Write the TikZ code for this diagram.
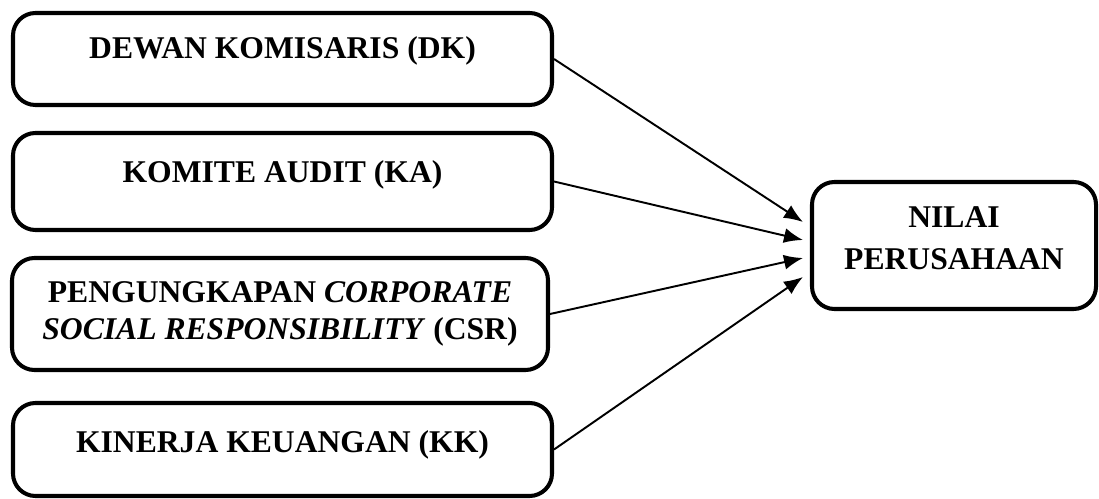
\documentclass[tikz,border=0pt]{standalone}
\usepackage{fontspec}
\setmainfont{Liberation Serif}
\usetikzlibrary{arrows.meta}
\begin{document}
\begin{tikzpicture}[
    var/.style={draw, line width=2.3pt, rounded corners=0.45cm, align=center,
                font=\fontsize{18}{21}\selectfont\bfseries, inner sep=0pt},
    panah/.style={line width=1.1pt, -{Latex[length=0.38cm,width=0.3cm]}}
  ]
                \useasboundingbox (0,0) rectangle (21.98,9.96);

                % variabel independen
                \node [var, minimum width=10.78cm, minimum height=1.84cm, text depth=13.6pt] (dk) at (5.65,8.78) {DEWAN KOMISARIS (DK)};
                \node [var, minimum width=10.78cm, minimum height=1.94cm, text depth=11.4pt] (ka) at (5.65,6.33) {KOMITE AUDIT (KA)};
                \node [var, minimum width=10.72cm, minimum height=2.24cm] (csr) at (5.6,3.68)
                      {PENGUNGKAPAN \textit{CORPORATE}\\\textit{SOCIAL RESPONSIBILITY} (CSR)};
                \node [var, minimum width=10.78cm, minimum height=1.86cm, text depth=9.1pt] (kk) at (5.65,0.97) {KINERJA KEUANGAN (KK)};

                % variabel dependen
                \node [var, font=\fontsize{18}{24}\selectfont\bfseries, minimum width=5.68cm, minimum height=2.54cm,
                       text depth=8.7pt] (nilai) at (19.08,5.05) {NILAI\\PERUSAHAAN};

                % panah
                \draw [panah] (dk.east) -- ([xshift=-0.14cm,yshift=0.47cm]nilai.west);
                \draw [panah] (ka.east) -- ([xshift=-0.14cm,yshift=0.11cm]nilai.west);
                \draw [panah] (csr.east) -- ([xshift=-0.14cm,yshift=-0.25cm]nilai.west);
                \draw [panah] (kk.east) -- ([xshift=-0.14cm,yshift=-0.63cm]nilai.west);
\end{tikzpicture}
\end{document}
